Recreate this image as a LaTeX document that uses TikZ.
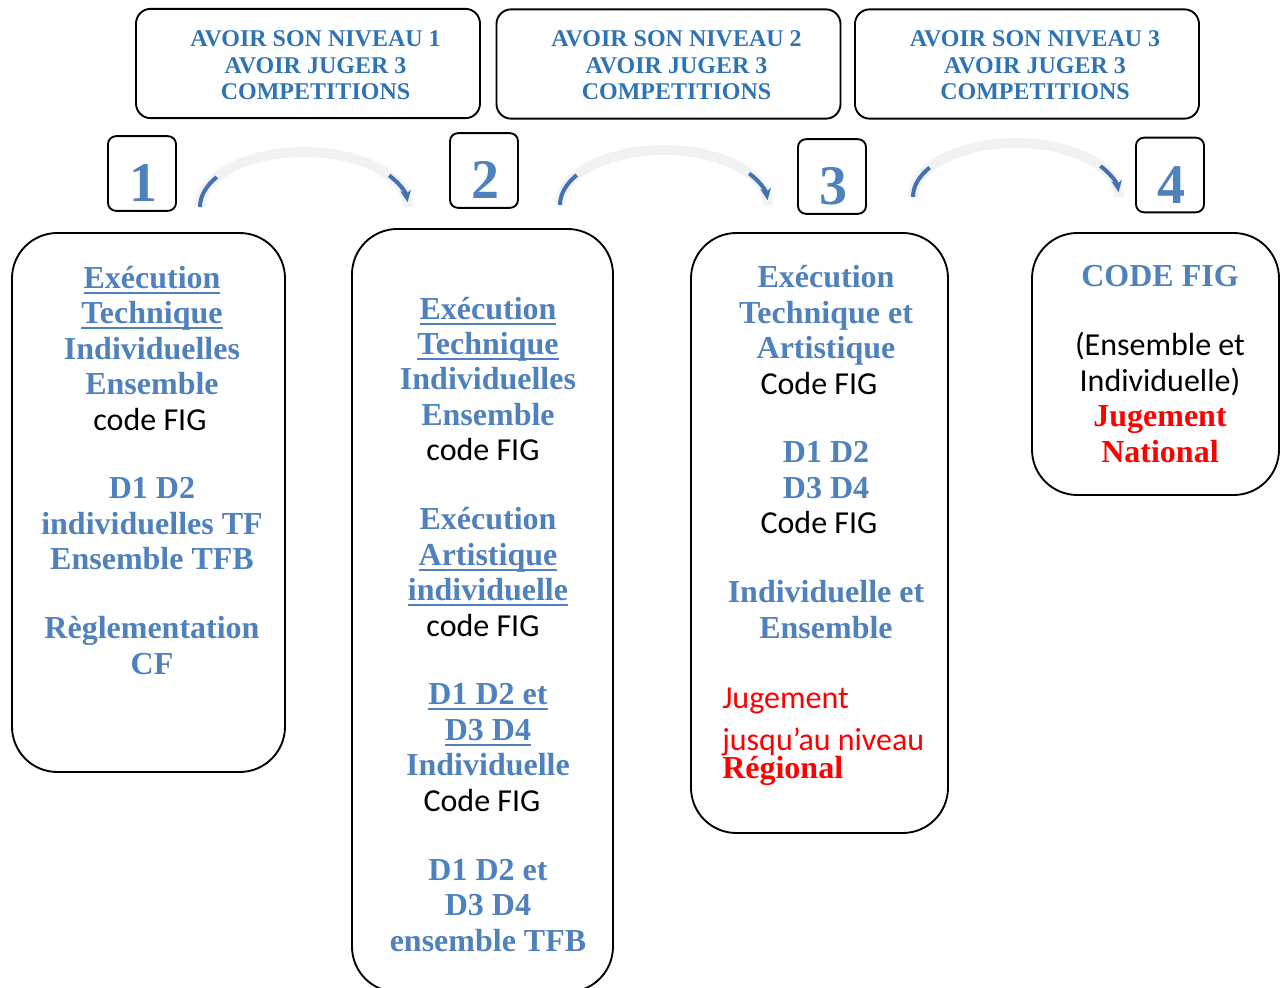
\documentclass[tikz,border=0pt]{standalone}
\usepackage{fontspec}
\setmainfont{Liberation Serif}
\setsansfont{Carlito}
\usetikzlibrary{arrows.meta}
\definecolor{figblue}{HTML}{4F81BD}
\definecolor{topblue}{HTML}{2E74B5}
\definecolor{arcgray}{HTML}{F2F2F2}
\definecolor{arcblue}{HTML}{4272B2}
\newcommand{\cfig}[2][0pt]{\textcolor{black}{\sffamily\mdseries #2\hspace*{#1}}}
\newcommand{\sou}[1]{\setbox0\hbox{#1}\leavevmode\rlap{\copy0}\rule[-4.2pt]{\wd0}{1.5pt}}

\begin{document}
\begin{tikzpicture}[x=0.75pt,y=-0.75pt,
  bigbox/.style={draw,line width=1.4pt,rounded corners=34pt,inner sep=0pt},
  topbox/.style={draw,line width=1.4pt,rounded corners=11pt,minimum width=258pt,minimum height=82pt,inner sep=0pt},
  numbox/.style={draw,line width=1.4pt,rounded corners=6pt,minimum width=51pt,minimum height=56pt,inner sep=0pt},
  bodytext/.style={align=center,anchor=base,inner sep=0pt,text=figblue,font=\bfseries\fontsize{24}{26.6}\selectfont},
  toptext/.style={align=center,anchor=base,inner sep=0pt,text=topblue,font=\bfseries\fontsize{18}{19.9}\selectfont},
  numtext/.style={anchor=base,inner sep=0pt,text=figblue,font=\bfseries\fontsize{42}{42}\selectfont},
  band/.style={arcgray,line width=7.5pt},
  tail/.style={arcblue,line width=3pt}]
\useasboundingbox (0,0) rectangle (1286,988);
\clip (0,0) rectangle (1286,988);

\node[topbox] (niv1) at (308,63.5) {};
\node[topbox] (niv2) at (668.5,64) {};
\node[topbox] (niv3) at (1027,64) {};
\node[toptext] (niv1txt) at (315.5,100) {AVOIR SON NIVEAU 1\\ AVOIR JUGER 3\\ COMPETITIONS};
\node[toptext] (niv2txt) at (676.5,100) {AVOIR SON NIVEAU 2\\ AVOIR JUGER 3\\ COMPETITIONS};
\node[toptext] (niv3txt) at (1035,100) {AVOIR SON NIVEAU 3\\ AVOIR JUGER 3\\ COMPETITIONS};

\node[numbox] (num1) at (142,173.5) {};
\node[numbox] (num2) at (484,170.5) {};
\node[numbox] (num3) at (832,176.5) {};
\node[numbox] (num4) at (1170,175) {};
\node[numtext] (num1txt) at (143,202) {1};
\node[numtext] (num2txt) at (485,199) {2};
\node[numtext] (num3txt) at (833,205) {3};
\node[numtext] (num4txt) at (1171,203.5) {4};

\node[bigbox,minimum width=204.75pt,minimum height=404.25pt] (etape1) at (148.5,502.5) {};
\node[bigbox,minimum width=195.75pt,minimum height=572.25pt] (etape2) at (482.5,610.5) {};
\node[bigbox,minimum width=192.75pt,minimum height=450pt] (etape3) at (819.5,533) {};
\node[bigbox,minimum width=185.25pt,minimum height=196.5pt] (etape4) at (1155.5,364) {};

\node[bodytext] (etape1txt) at (152,674) {\sou{Exécution}\\ \sou{Technique}\\ Individuelles\\ Ensemble\\ \cfig[3pt]{code FIG}\\[25pt] D1 D2\\ individuelles TF\\ Ensemble TFB\\[25pt] Règlementation\\ CF};
\node[bodytext] (etape2txt) at (488,951) {\sou{Exécution}\\ \sou{Technique}\\ Individuelles\\ Ensemble\\ \cfig[7.5pt]{code FIG}\\[25pt] Exécution\\ \sou{Artistique}\\ \sou{individuelle}\\ \cfig[7.5pt]{code FIG}\\[25pt] \sou{D1 D2 et}\\ \sou{D3 D4}\\ Individuelle\\ \cfig[9pt]{Code FIG}\\[25pt] D1 D2 et\\ D3 D4\\ ensemble TFB};
\node[bodytext] (etape3txt) at (826,638) {Exécution\\ Technique et\\ Artistique\\ \cfig[10.5pt]{Code FIG}\\[25pt] D1 D2\\ D3 D4\\ \cfig[10.5pt]{Code FIG}\\[25pt] Individuelle et\\ Ensemble};
\node[bodytext,anchor=base west,align=left,text=red] (etape3jug) at (722,778) {\textsf{\mdseries Jugement}\\[4.2pt] \textsf{\mdseries jusqu’au niveau}\\[-5.6pt] Régional};
\node[bodytext] (etape4txt) at (1160,462) {CODE FIG\\[25pt] \cfig{(Ensemble et}\\ \cfig{Individuelle)}\\ \textcolor{red}{Jugement}\\ \textcolor{red}{National}};

% fleches courbes
\coordinate (arc1) at (200,207);
\coordinate (arc2) at (560,205);
\coordinate (arc3) at (913,197);
\draw[band] (arc1) arc[start angle=180,end angle=360,x radius=104,y radius=55]; \draw[tail] (arc1) arc[start angle=180,end angle=213,x radius=104,y radius=55]; \draw[tail,-{Stealth[length=9pt,width=8pt]}] (arc1) ++(104,0) ++(325:104 and 55) arc[start angle=325,end angle=355,x radius=104,y radius=55];
\draw[band] (arc2) arc[start angle=180,end angle=360,x radius=104,y radius=55]; \draw[tail] (arc2) arc[start angle=180,end angle=213,x radius=104,y radius=55]; \draw[tail,-{Stealth[length=9pt,width=8pt]}] (arc2) ++(104,0) ++(325:104 and 55) arc[start angle=325,end angle=355,x radius=104,y radius=55];
\draw[band] (arc3) arc[start angle=180,end angle=360,x radius=103,y radius=54]; \draw[tail] (arc3) arc[start angle=180,end angle=213,x radius=103,y radius=54]; \draw[tail,-{Stealth[length=9pt,width=8pt]}] (arc3) ++(103,0) ++(325:103 and 54) arc[start angle=325,end angle=355,x radius=103,y radius=54];
\end{tikzpicture}
\end{document}
